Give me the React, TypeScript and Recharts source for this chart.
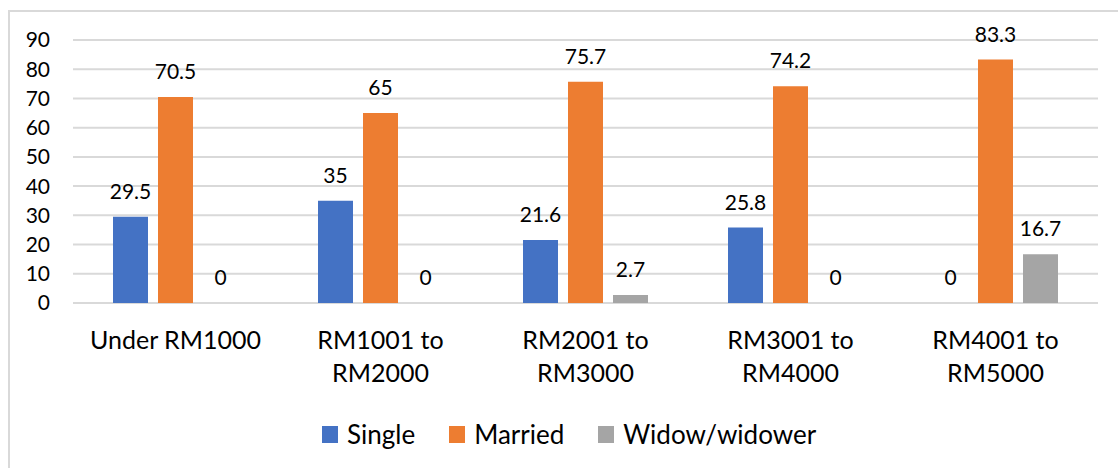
import { BarChart, Bar, XAxis, YAxis, CartesianGrid, Legend, LabelList } from "recharts";

const categories = [
  "Under RM1000",
  "RM1001 to|RM2000",
  "RM2001 to|RM3000",
  "RM3001 to|RM4000",
  "RM4001 to|RM5000",
];
const single = [29.5, 35, 21.6, 25.8, 0];
const married = [70.5, 65, 75.7, 74.2, 83.3];
const widow = [0, 0, 2.7, 0, 16.7];
const yTicks = [0, 10, 20, 30, 40, 50, 60, 70, 80, 90];

const seriesInfo = [
  { key: "single", name: "Single", color: "#4472C4" },
  { key: "married", name: "Married", color: "#ED7D31" },
  { key: "widow", name: "Widow/widower", color: "#A5A5A5" },
];

const data = categories.map((c, i) => ({
  category: c,
  single: single[i],
  married: married[i],
  widow: widow[i],
}));

const FONT = "Lato, 'Open Sans', sans-serif";

function CategoryTick(props: any) {
  const { x, y, payload } = props;
  const lines = String(payload.value).split("|");
  return (
    <text x={x} y={y} textAnchor="middle" fontFamily={FONT} fontSize={25} fill="#000">
      {lines.map((line, i) => (
        <tspan key={i} x={x} dy={i === 0 ? 38 : 33}>
          {line}
        </tspan>
      ))}
    </text>
  );
}

function BarValueLabel(props: any) {
  const { x, y, width, value } = props;
  return (
    <text
      x={Number(x) + Number(width) / 2}
      y={Number(y) - 18}
      textAnchor="middle"
      fontFamily={FONT}
      fontSize={21}
      fill="#000"
    >
      {String(value)}
    </text>
  );
}

function LegendContent() {
  return (
    <div
      style={{
        display: "flex",
        alignItems: "center",
        height: 50,
        boxSizing: "border-box",
        paddingTop: 32,
        paddingLeft: 322,
        fontFamily: FONT,
        fontSize: 26,
        color: "#000",
      }}
    >
      {seriesInfo.map((s) => (
        <div key={s.key} style={{ display: "flex", alignItems: "center", marginRight: 34 }}>
          <span style={{ width: 16, height: 17, background: s.color, marginRight: 9, display: "inline-block" }} />
          <span style={{ lineHeight: "18px" }}>{s.name}</span>
        </div>
      ))}
    </div>
  );
}

export default function App() {
  return (
    <div style={{ position: "fixed", left: 0, top: 0, width: 1118, height: 468, overflow: "hidden", background: "#fff" }}>
      <div
        style={{
          position: "absolute",
          left: 8,
          top: 10,
          width: 1200,
          height: 600,
          borderLeft: "2px solid #d9d9d9",
          borderTop: "2px solid #d9d9d9",
        }}
      />
      <div style={{ position: "absolute", left: 0, top: 0 }}>
        <BarChart
          width={1118}
          height={468}
          data={data}
          margin={{ top: 40, right: 20, bottom: 25, left: 0 }}
          barGap={10}
          barSize={35}
        >
          <CartesianGrid vertical={false} stroke="#d9d9d9" strokeWidth={2} />
          <XAxis
            dataKey="category"
            axisLine={false}
            tickLine={false}
            height={90}
            interval={0}
            tick={<CategoryTick />}
          />
          <YAxis
            domain={[0, 90]}
            ticks={yTicks}
            interval={0}
            width={73}
            axisLine={false}
            tickLine={false}
            tickMargin={17}
            tick={{ fontFamily: FONT, fontSize: 21, fill: "#000" }}
          />
          <Legend verticalAlign="bottom" content={<LegendContent />} />
          {seriesInfo.map((s) => (
            <Bar
              key={s.key}
              dataKey={s.key}
              name={s.name}
              fill={s.color}
              minPointSize={0.01}
              isAnimationActive={false}
            >
              <LabelList dataKey={s.key} content={<BarValueLabel />} />
            </Bar>
          ))}
        </BarChart>
      </div>
    </div>
  );
}
